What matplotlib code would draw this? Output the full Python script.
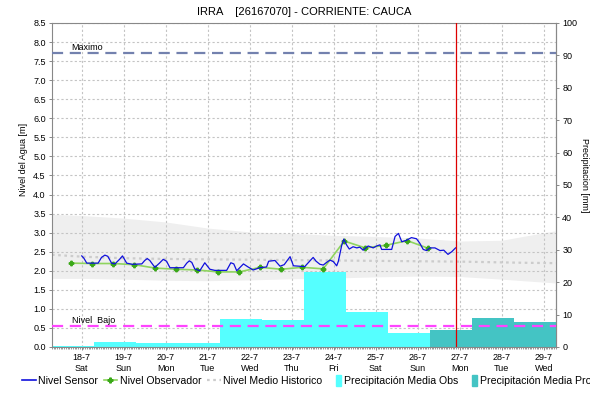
import matplotlib
matplotlib.use("Agg")
import matplotlib.pyplot as plt
from matplotlib.lines import Line2D
from matplotlib.patches import Patch, Rectangle
from matplotlib.legend_handler import HandlerPatch
from matplotlib.ticker import MultipleLocator, FixedLocator

plt.rcParams['font.family'] = ['Liberation Sans', 'DejaVu Sans']

# ---- data (time in days of July) ----
tick_days = [18, 19, 20, 21, 22, 23, 24, 25, 26, 27, 28, 29]
tick_weekdays = ["Sat", "Sun", "Mon", "Tue", "Wed", "Thu", "Fri",
                 "Sat", "Sun", "Mon", "Tue", "Wed"]

sensor_t = [18.00, 18.05, 18.12, 18.39, 18.47, 18.55, 18.62, 18.71, 18.79,
            18.90, 18.97, 19.07, 19.20, 19.43, 19.50, 19.56, 19.62, 19.74,
            19.85, 19.94, 20.02, 20.10, 20.42, 20.50, 20.56, 20.62, 20.69,
            20.81, 20.93, 21.05, 21.17, 21.45, 21.55, 21.62, 21.69, 21.85,
            21.96, 22.08, 22.24, 22.40, 22.45, 22.60, 22.72, 22.82, 22.96,
            23.04, 23.31, 23.45, 23.51, 23.58, 23.67, 23.75, 23.83, 23.91,
            23.99, 24.07, 24.11, 24.19, 24.24, 24.31, 24.37, 24.46, 24.55,
            24.62, 24.70, 24.82, 24.94, 25.02, 25.10, 25.14, 25.22, 25.38,
            25.46, 25.54, 25.62, 25.73, 25.85, 25.97, 26.05, 26.13, 26.21,
            26.29, 26.41, 26.53, 26.62, 26.72, 26.81, 26.90]
sensor_level = [2.39, 2.33, 2.20, 2.20, 2.35, 2.41, 2.38, 2.20, 2.18,
                2.30, 2.39, 2.20, 2.17, 2.18, 2.27, 2.32, 2.27, 2.09,
                2.20, 2.30, 2.25, 2.08, 2.08, 2.20, 2.26, 2.22, 2.05,
                2.00, 2.21, 2.04, 2.01, 2.01, 2.21, 2.18, 2.00, 2.18,
                2.10, 2.02, 2.08, 2.10, 2.25, 2.27, 2.12, 2.16, 2.37,
                2.13, 2.11, 2.28, 2.35, 2.25, 2.17, 2.15, 2.22, 2.28,
                2.24, 2.13, 2.25, 2.67, 2.83, 2.67, 2.57, 2.63, 2.60,
                2.62, 2.54, 2.65, 2.60, 2.65, 2.68, 2.56, 2.56, 2.56,
                2.90, 2.98, 2.76, 2.80, 2.87, 2.84, 2.72, 2.56, 2.53,
                2.60, 2.60, 2.53, 2.54, 2.43, 2.50, 2.60]

obs_t = [17.75, 18.25, 18.75, 19.25, 19.75, 20.25, 20.75, 21.25, 21.75,
         22.25, 22.75, 23.25, 23.75, 24.25, 24.75, 25.25, 25.75, 26.25]
obs_level = [2.20, 2.19, 2.19, 2.16, 2.07, 2.04, 2.02, 1.97, 1.97,
             2.09, 2.04, 2.09, 2.05, 2.78, 2.60, 2.67, 2.79, 2.59]

hist_t = [17.29, 18.0, 19.0, 20.0, 21.0, 22.0, 23.0, 24.0, 25.0, 26.0,
          27.0, 28.0, 28.5, 29.29]
hist_mean = [2.42, 2.37, 2.33, 2.31, 2.30, 2.29, 2.28, 2.27, 2.26, 2.25,
             2.24, 2.22, 2.21, 2.20]
hist_low = [1.80, 1.80, 1.78, 1.75, 1.74, 1.76, 1.79, 1.81, 1.84, 1.86,
            1.85, 1.78, 1.74, 1.68]
hist_high = [3.48, 3.45, 3.38, 3.28, 3.12, 3.02, 2.98, 2.93, 2.90, 2.86,
             2.78, 2.80, 2.90, 3.05]

precip_obs_mm = [0.4, 1.6, 1.1, 1.1, 8.7, 8.4, 23.2, 10.8, 4.4]
precip_pro_mm = [5.4, 8.8, 7.6]

level_max = 7.7
level_low = 0.55
now_t = 26.9

title = "IRRA    [26167070] - CORRIENTE: CAUCA"

# ---- figure ----
W, H = 590, 403
fig = plt.figure(figsize=(W / 100, H / 100), dpi=100)
ax = fig.add_axes([52 / W, 1 - 347 / H, (556 - 52) / W, (347 - 23) / H])

day_start = 17 + 7 / 24          # precipitation day runs 07:00 to 07:00
t0, t1 = day_start, day_start + 12
ymax_m, ymax_mm = 8.5, 100.0
m_to_mm = ymax_mm / ymax_m

ax.set_xlim(t0, t1)
ax.set_ylim(0, ymax_m)

# historical range and mean
ax.fill_between(hist_t, hist_low, hist_high, color="#efefef", lw=0, zorder=0.2)
ax.set_axisbelow(True)
ax.grid(True, color="#c4c4c4", linestyle=(0, (2, 2)), linewidth=0.8)
ax.plot(hist_t, hist_mean, color="#cccccc", lw=1.6, linestyle=(0, (1.2, 1.6)),
        zorder=1)

# precipitation bars (mm, drawn in metre units of the level axis)
obs_x = [day_start + i for i in range(len(precip_obs_mm))]
pro_x = [day_start + len(precip_obs_mm) + i for i in range(len(precip_pro_mm))]
ax.bar(obs_x, [v / m_to_mm for v in precip_obs_mm], width=1.0, align="edge",
       color="#55ffff", lw=0, zorder=2)
ax.bar(pro_x, [v / m_to_mm for v in precip_pro_mm], width=1.0, align="edge",
       color="#44c4c4", lw=0, zorder=2)

# reference levels
ax.axhline(level_max, color="#7381ae", lw=1.6, dashes=(5, 3), zorder=3)
ax.axhline(level_low, color="#ff44ff", lw=1.6, dashes=(5, 3), zorder=3)
ax.text(17.75, level_max + 0.03, "Maximo", fontsize=6.5, va="bottom", zorder=4)
ax.text(17.77, level_low + 0.03, "Nivel  Bajo", fontsize=6.5, va="bottom", zorder=4)

# levels
ax.plot(obs_t, obs_level, color="#8fd45f", lw=1.2, zorder=4)
ax.plot(obs_t, obs_level, linestyle="none", marker="P", ms=3.2,
        color="#3aa818", zorder=4.5)
ax.plot(sensor_t, sensor_level, color="#1010dd", lw=0.9, zorder=5)

ax.axvline(now_t, color="#dd0000", lw=0.9, zorder=6)

# axes styling
for s in ax.spines.values():
    s.set_color("#888888")
    s.set_linewidth(0.8)
ax.yaxis.set_major_locator(MultipleLocator(0.5))
ax.yaxis.set_major_formatter(matplotlib.ticker.FormatStrFormatter("%.1f"))
ax.xaxis.set_major_locator(FixedLocator(tick_days))
ax.set_xticklabels([f"{d}-7\n{w}" for d, w in zip(tick_days, tick_weekdays)],
                   linespacing=1.25)
ax.xaxis.set_minor_locator(MultipleLocator(1 / 24))
ax.tick_params(axis="both", which="major", labelsize=6.5, length=2.5,
               width=0.7, color="#888888", pad=2)
ax.tick_params(axis="x", which="minor", length=1.5, width=0.6, color="#888888")

ax.set_ylabel("Nivel del Agua [m]", fontsize=6.5)
ax.yaxis.set_label_coords(-0.047, 0.58)

sec = ax.secondary_yaxis("right", functions=(lambda m: m * m_to_mm,
                                             lambda mm: mm / m_to_mm))
sec.set_yticks(range(0, 101, 10))
sec.tick_params(labelsize=6.5, length=2.5, width=0.7, color="#888888", pad=2)
sec.spines["right"].set_color("#888888")
fig.text(584 / W, 1 - 175 / H, "Precipitacion [mm]", fontsize=6.5,
         rotation=270, ha="center", va="center")

ax.set_title(title, fontsize=8, pad=6)

# legend along the bottom
def tall_box(legend, orig_handle, xdescent, ydescent, width, height, fontsize):
    return Rectangle((-xdescent + width * 0.62, -ydescent - height * 0.25),
                     width * 0.38, height * 1.4)

handles = [
    Line2D([], [], color="#1010dd", lw=1.2),
    Line2D([], [], color="#8fd45f", lw=1.2, marker="P", ms=3.5,
           markerfacecolor="#3aa818", markeredgecolor="#3aa818"),
    Line2D([], [], color="#cccccc", lw=1.6, linestyle=(0, (1.2, 1.6))),
    Patch(color="#55ffff"),
    Patch(color="#44c4c4"),
]
labels = ["Nivel Sensor", "Nivel Observador", "Nivel Medio Historico",
          "Precipitación Media Obs", "Precipitación Media Pro"]
fig.legend(handles, labels, loc="center left", bbox_to_anchor=(0.03, 0.055),
           ncol=5, frameon=False, fontsize=7.6, handlelength=1.3,
           handletextpad=0.25, columnspacing=0.5, borderaxespad=0,
           handler_map={Patch: HandlerPatch(patch_func=tall_box)})

fig.savefig("out.png", dpi=100, facecolor="white")
